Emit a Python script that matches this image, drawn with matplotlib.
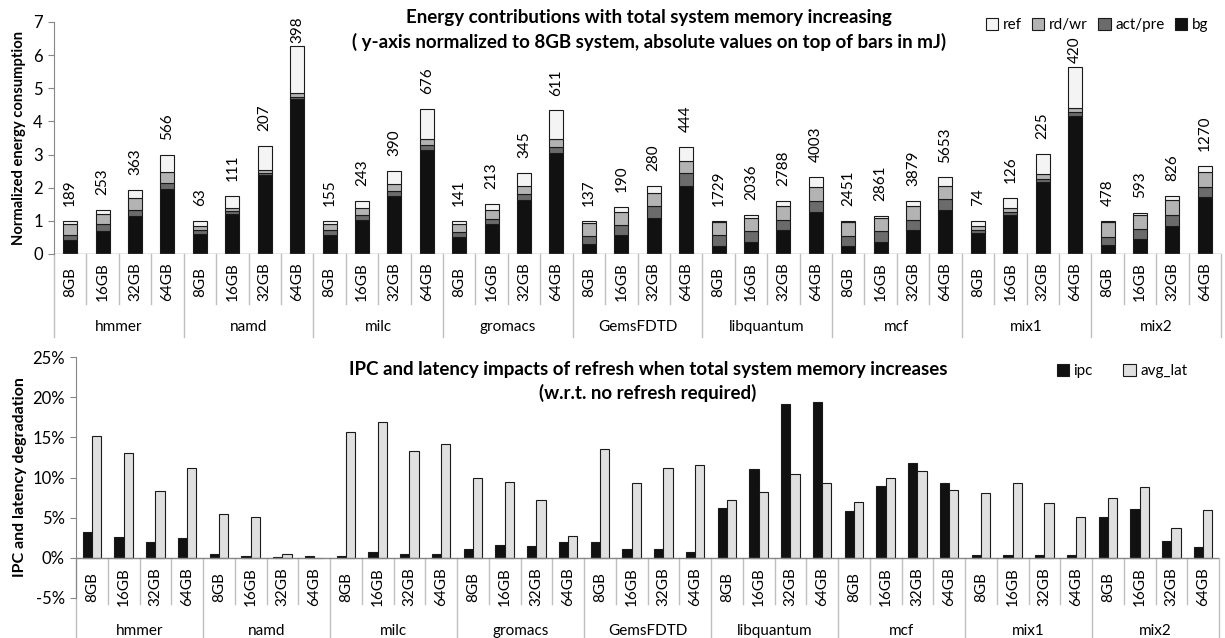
import matplotlib.pyplot as plt
import numpy as np

plt.rcParams['font.family'] = ['Lato', 'DejaVu Sans']

BENCHMARKS = ['hmmer', 'namd', 'milc', 'gromacs', 'GemsFDTD', 'libquantum', 'mcf', 'mix1', 'mix2']
SIZES = ['8GB', '16GB', '32GB', '64GB']

# energy parts, normalized to the 8GB system (4 sizes per benchmark)
BG = [0.41, 0.68, 1.15, 1.97, 0.60, 1.20, 2.37, 4.68, 0.56, 1.03, 1.74, 3.14,
      0.51, 0.91, 1.64, 3.06, 0.31, 0.56, 1.09, 2.06, 0.23, 0.36, 0.71, 1.28,
      0.23, 0.37, 0.73, 1.34, 0.62, 1.17, 2.17, 4.17, 0.26, 0.45, 0.85, 1.71]
ACT_PRE = [0.17, 0.22, 0.19, 0.18, 0.13, 0.09, 0.07, 0.07, 0.17, 0.14, 0.15, 0.15,
           0.15, 0.16, 0.17, 0.18, 0.22, 0.31, 0.35, 0.38, 0.33, 0.34, 0.32, 0.33,
           0.32, 0.32, 0.30, 0.32, 0.09, 0.09, 0.09, 0.11, 0.26, 0.30, 0.33, 0.32]
RD_WR = [0.33, 0.32, 0.36, 0.33, 0.10, 0.10, 0.10, 0.10, 0.17, 0.21, 0.22, 0.18,
         0.24, 0.25, 0.23, 0.22, 0.42, 0.41, 0.41, 0.37, 0.42, 0.38, 0.41, 0.41,
         0.42, 0.39, 0.41, 0.40, 0.14, 0.13, 0.16, 0.14, 0.45, 0.43, 0.44, 0.43]
REF = [0.09, 0.12, 0.23, 0.52, 0.17, 0.36, 0.72, 1.43, 0.10, 0.21, 0.40, 0.90,
       0.10, 0.20, 0.41, 0.87, 0.05, 0.13, 0.21, 0.43, 0.02, 0.10, 0.17, 0.30,
       0.03, 0.08, 0.15, 0.25, 0.15, 0.31, 0.61, 1.23, 0.03, 0.05, 0.12, 0.20]
ABS_MJ = [189, 253, 363, 566, 63, 111, 207, 398, 155, 243, 390, 676,
          141, 213, 345, 611, 137, 190, 280, 444, 1729, 2036, 2788, 4003,
          2451, 2861, 3879, 5653, 74, 126, 225, 420, 478, 593, 826, 1270]

# degradation in %
IPC = [3.2, 2.55, 1.9, 2.5, 0.46, 0.25, 0.1, 0.25, 0.25, 0.75, 0.46, 0.46,
       1.1, 1.6, 1.46, 1.9, 1.9, 1.05, 1.05, 0.75, 6.2, 11.0, 19.2, 19.4,
       5.8, 9.0, 11.8, 9.27, 0.3, 0.3, 0.3, 0.37, 5.13, 6.05, 2.1, 1.3]
AVG_LAT = [15.2, 13.1, 8.35, 11.2, 5.4, 5.1, 0.42, -0.1, 15.7, 16.9, 13.3, 14.2,
           9.9, 9.5, 7.2, 2.75, 13.6, 9.35, 11.2, 11.6, 7.2, 8.2, 10.4, 9.35,
           6.9, 9.97, 10.8, 8.5, 8.1, 9.27, 6.8, 5.1, 7.43, 8.8, 3.76, 5.9]

W, H = 1225, 638
AXIS_GRAY = '#868686'
SEP_GRAY = '#bfbfbf'
FS = 11
TITLE_FS = 13.5


def px_to_units(ax, px, height_px):
    lo, hi = ax.get_ylim()
    return px * (hi - lo) / height_px


def category_axis(ax, height_px, y0, label_px, inner_px, group_label_px, outer_px):
    n = len(BENCHMARKS) * len(SIZES)
    d = lambda p: y0 - px_to_units(ax, p, height_px)
    for i in range(n):
        ax.text(i + 0.5, d(label_px), SIZES[i % 4], rotation=90, ha='center', va='center',
                fontsize=FS, clip_on=False)
    for i in range(n + 1):
        bottom = d(outer_px) if i % 4 == 0 else d(inner_px)
        ax.plot([i, i], [y0, bottom], color=SEP_GRAY, lw=1.0, clip_on=False, zorder=1)
    for g, name in enumerate(BENCHMARKS):
        ax.text(4 * g + 2, d(group_label_px), name, ha='center', va='center',
                fontsize=FS, clip_on=False)
    ax.axhline(y0, color=AXIS_GRAY, lw=1.0, zorder=3)


fig = plt.figure(figsize=(W / 100, H / 100), dpi=100)

# ---------- top: energy breakdown ----------
top_h = 232
ax1 = fig.add_axes([54 / W, (H - 254) / H, 1167 / W, top_h / H])
x = np.arange(len(BG)) + 0.5
bw = 0.43
edge = dict(edgecolor='#1a1a1a', linewidth=0.8)
parts = [('bg', BG, '#111111'), ('act/pre', ACT_PRE, '#6b6b6b'),
         ('rd/wr', RD_WR, '#b3b3b3'), ('ref', REF, '#f4f4f4')]
bottom = np.zeros(len(BG))
handles = {}
for name, vals, color in parts:
    handles[name] = ax1.bar(x, vals, bw, bottom=bottom, color=color, label=name, zorder=2, **edge)
    bottom += np.array(vals)
for xi, tot, lab in zip(x, bottom, ABS_MJ):
    gap = 0.1 if tot > 5 else 0.45
    ax1.text(xi, tot + gap, str(lab), rotation=90, ha='center', va='bottom', fontsize=FS)

ax1.set_xlim(0, len(BG))
ax1.set_ylim(0, 7)
ax1.set_yticks(range(0, 8))
ax1.tick_params(axis='y', labelsize=12, length=4, color=AXIS_GRAY, pad=4)
ax1.set_xticks([])
for s in ['top', 'right', 'bottom']:
    ax1.spines[s].set_visible(False)
ax1.spines['left'].set_color(AXIS_GRAY)
ax1.set_ylabel('Normalized energy consumption', fontsize=10.6, fontweight='bold', labelpad=5)
category_axis(ax1, top_h, 0, 28, 50, 73, 83)

fig.text(0.53, (H - 18) / H, 'Energy contributions with total system memory increasing',
         ha='center', va='center', fontsize=TITLE_FS, fontweight='bold')
fig.text(0.53, (H - 42) / H, '( y-axis normalized to 8GB system, absolute values on top of bars in mJ)',
         ha='center', va='center', fontsize=TITLE_FS, fontweight='bold')
fig.legend([handles[k] for k in ['ref', 'rd/wr', 'act/pre', 'bg']], ['ref', 'rd/wr', 'act/pre', 'bg'],
           loc='center', bbox_to_anchor=(1097 / W, (H - 25) / H), ncol=4, frameon=False,
           fontsize=FS, handlelength=0.8, handleheight=0.8, handletextpad=0.3, columnspacing=0.7)

# ---------- bottom: IPC / latency ----------
bot_h = 240.4
ax2 = fig.add_axes([76 / W, (H - 597.7) / H, 1143 / W, bot_h / H])
pw = 0.29
b_ipc = ax2.bar(x - pw / 2, IPC, pw, color='#111111', label='ipc', zorder=2, **edge)
b_lat = ax2.bar(x + pw / 2, AVG_LAT, pw, color='#e0e0e0', label='avg_lat', zorder=2, **edge)
ax2.set_xlim(0, len(IPC))
ax2.set_ylim(-5, 25)
ax2.set_yticks(range(-5, 30, 5))
ax2.set_yticklabels([f'{v}%' for v in range(-5, 30, 5)])
ax2.tick_params(axis='y', labelsize=12, length=4, color=AXIS_GRAY, pad=4)
ax2.set_xticks([])
for s in ['top', 'right', 'bottom']:
    ax2.spines[s].set_visible(False)
ax2.spines['left'].set_color(AXIS_GRAY)
ax2.set_ylabel('IPC and latency degradation', fontsize=11.5, fontweight='bold', labelpad=4)
category_axis(ax2, bot_h, 0, 29, 46, 73, 82)

fig.text(0.529, (H - 369) / H, 'IPC and latency impacts of refresh when total system memory increases',
         ha='center', va='center', fontsize=TITLE_FS, fontweight='bold')
fig.text(0.529, (H - 393) / H, '(w.r.t. no refresh required)',
         ha='center', va='center', fontsize=TITLE_FS, fontweight='bold')
fig.legend([b_ipc, b_lat], ['ipc', 'avg_lat'], loc='center',
           bbox_to_anchor=(1122 / W, (H - 371) / H), ncol=2, frameon=False, fontsize=FS,
           handlelength=0.8, handleheight=0.8, handletextpad=0.3, columnspacing=2.0)

fig.savefig('out.png', dpi=100)
